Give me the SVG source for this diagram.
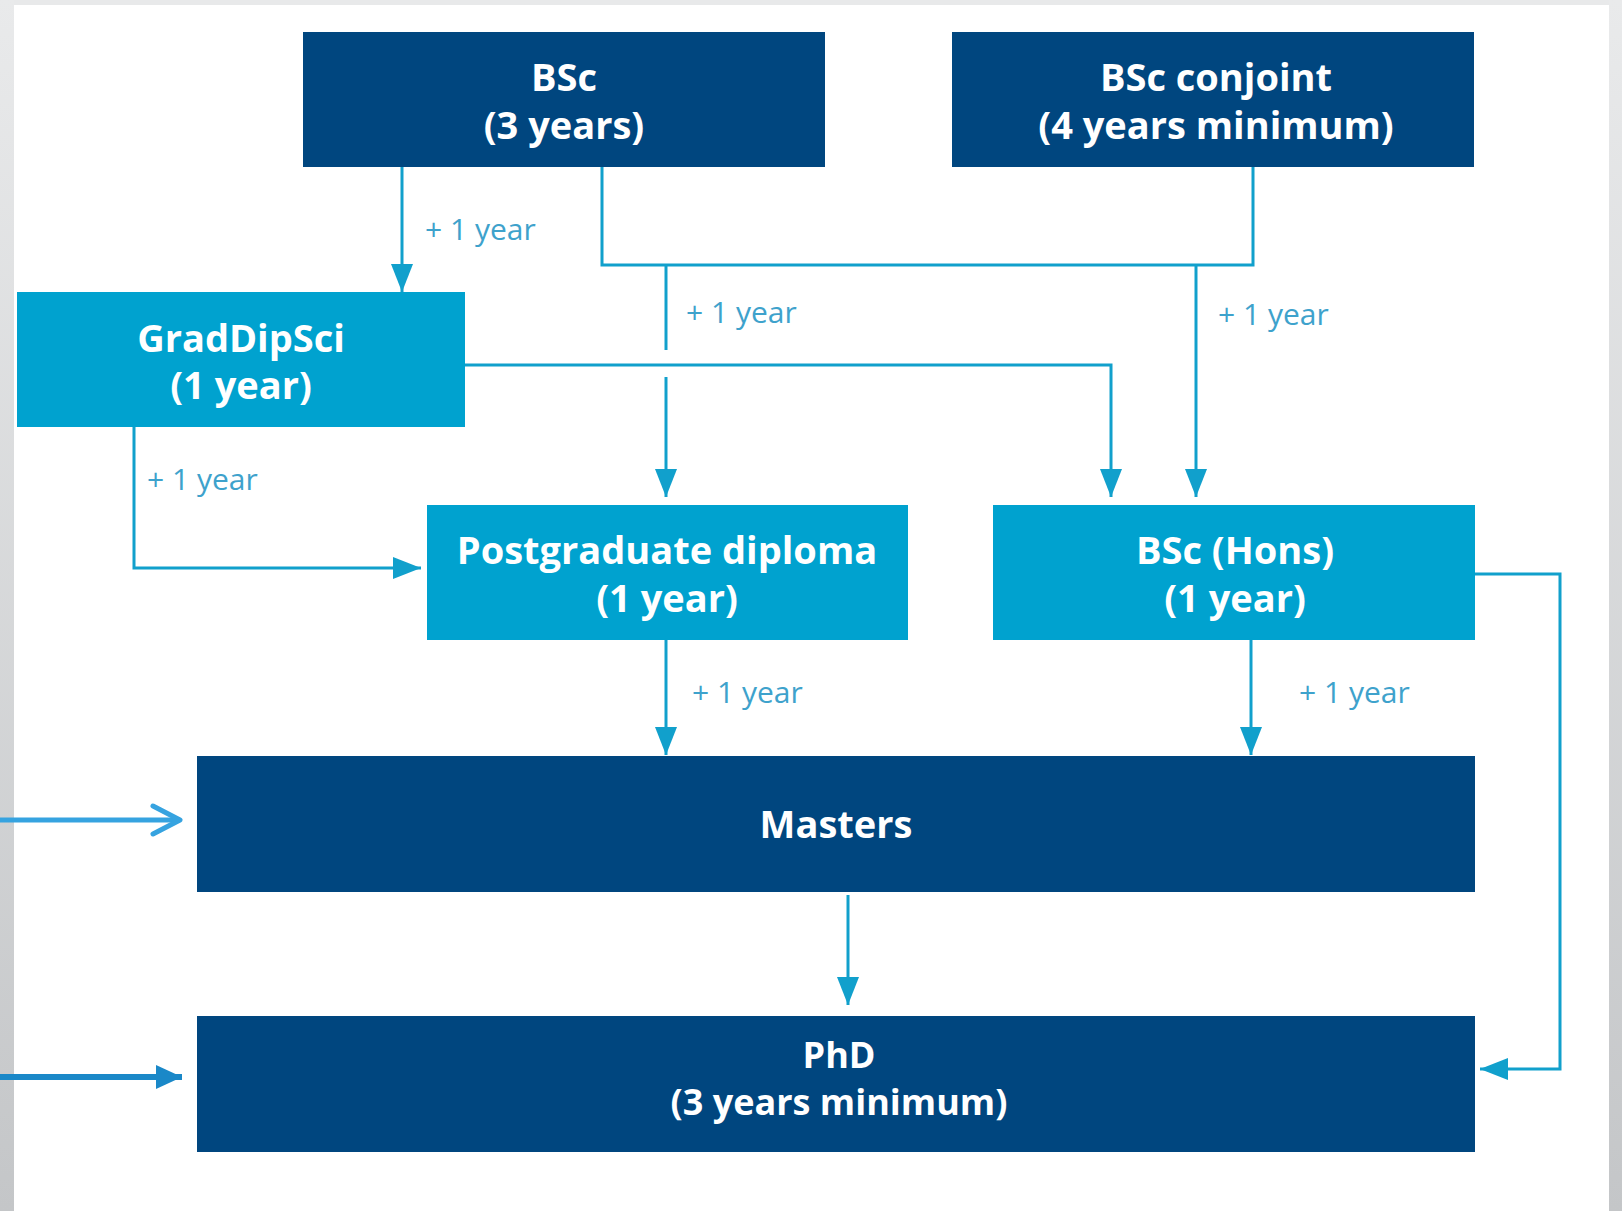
<svg xmlns="http://www.w3.org/2000/svg" width="1622" height="1211" viewBox="0 0 1622 1211">
  <defs>
    <linearGradient id="stripL" x1="0" y1="0" x2="0" y2="1">
      <stop offset="0" stop-color="#e9eaeb"/>
      <stop offset="1" stop-color="#c4c6c8"/>
    </linearGradient>
    <marker id="tri" markerUnits="userSpaceOnUse" markerWidth="28" markerHeight="22" refX="28" refY="11" orient="auto">
      <path d="M0,0 L28,11 L0,22 Z" fill="#11a0cc"/>
    </marker>
    <marker id="triExt" markerUnits="userSpaceOnUse" markerWidth="26" markerHeight="24" refX="26" refY="12" orient="auto">
      <path d="M0,0 L26,12 L0,24 Z" fill="#1a88c8"/>
    </marker>
  </defs>
  <style>
    .navy { fill: #00467f; }
    .light { fill: #00a2cf; }
    .title { font-family: "Open Sans", "Noto Sans", "Liberation Sans", sans-serif; font-weight: 700; font-size: 38px; fill: #ffffff; text-anchor: middle; }
    .phd { font-size: 36px; }
    .lbl { font-family: "Open Sans", "Liberation Sans", sans-serif; font-weight: 400; font-size: 30px; fill: #3ea2cc; }
    .conn { fill: none; stroke: #11a0cc; stroke-width: 3; }
  </style>

  <!-- background -->
  <rect x="0" y="0" width="1622" height="1211" fill="#ffffff"/>
  <rect x="0" y="0" width="1622" height="5" fill="#e8e9ea"/>
  <rect x="0" y="0" width="14" height="1211" fill="url(#stripL)"/>
  <rect x="1609" y="0" width="13" height="1211" fill="url(#stripL)"/>

  <!-- nodes -->
  <g id="bsc">
    <rect class="navy" x="303" y="32" width="522" height="135"/>
    <text class="title" x="564" y="91">BSc</text>
    <text class="title" x="564" y="139">(3 years)</text>
  </g>
  <g id="bsc-conjoint">
    <rect class="navy" x="952" y="32" width="522" height="135"/>
    <text class="title" x="1216" y="91">BSc conjoint</text>
    <text class="title" x="1216" y="139">(4 years minimum)</text>
  </g>
  <g id="graddipsci">
    <rect class="light" x="17" y="292" width="448" height="135"/>
    <text class="title" x="241" y="352">GradDipSci</text>
    <text class="title" x="241" y="399">(1 year)</text>
  </g>
  <g id="pgdip">
    <rect class="light" x="427" y="505" width="481" height="135"/>
    <text class="title" x="667" y="564">Postgraduate diploma</text>
    <text class="title" x="667" y="612">(1 year)</text>
  </g>
  <g id="bsc-hons">
    <rect class="light" x="993" y="505" width="482" height="135"/>
    <text class="title" x="1235" y="564">BSc (Hons)</text>
    <text class="title" x="1235" y="612">(1 year)</text>
  </g>
  <g id="masters">
    <rect class="navy" x="197" y="756" width="1278" height="136"/>
    <text class="title" x="836" y="838">Masters</text>
  </g>
  <g id="phd">
    <rect class="navy" x="197" y="1016" width="1278" height="136"/>
    <text class="title phd" x="839" y="1068">PhD</text>
    <text class="title phd" x="839" y="1115">(3 years minimum)</text>
  </g>

  <!-- connectors -->
  <g id="connectors">
    <path class="conn" d="M402,167 V292" marker-end="url(#tri)"/>
    <path class="conn" d="M602,167 V265 H1253 V167"/>
    <path class="conn" d="M666,265 V350"/>
    <path class="conn" d="M666,377 V497" marker-end="url(#tri)"/>
    <path class="conn" d="M1196,265 V497" marker-end="url(#tri)"/>
    <path class="conn" d="M465,365 H1111 V497" marker-end="url(#tri)"/>
    <path class="conn" d="M134,427 V568 H421" marker-end="url(#tri)"/>
    <path class="conn" d="M666,640 V755" marker-end="url(#tri)"/>
    <path class="conn" d="M1251,640 V755" marker-end="url(#tri)"/>
    <path class="conn" d="M848,895 V1005" marker-end="url(#tri)"/>
    <path class="conn" d="M1475,574 H1560 V1069 H1480" marker-end="url(#tri)"/>
    <path d="M0,820 H178" fill="none" stroke="#36a3e0" stroke-width="5"/>
    <path d="M153,806 L180,820 L153,834" fill="none" stroke="#36a3e0" stroke-width="5" stroke-linecap="round" stroke-linejoin="round"/>
    <path d="M0,1077 H182" fill="none" stroke="#1a88c8" stroke-width="6" marker-end="url(#triExt)"/>
    <text class="lbl" x="425" y="240">+ 1 year</text>
    <text class="lbl" x="686" y="323">+ 1 year</text>
    <text class="lbl" x="1218" y="325">+ 1 year</text>
    <text class="lbl" x="147" y="490">+ 1 year</text>
    <text class="lbl" x="692" y="703">+ 1 year</text>
    <text class="lbl" x="1299" y="703">+ 1 year</text>
  </g>
</svg>
